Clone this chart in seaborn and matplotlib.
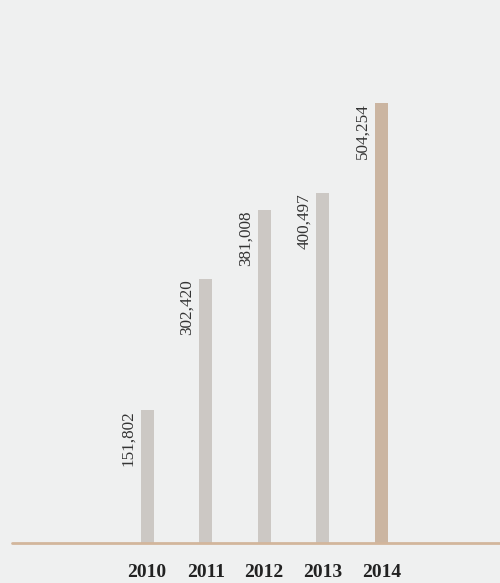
import numpy as np
import pandas as pd
import seaborn as sns
from matplotlib import pyplot as plt

# Data
years = ['2010', '2011', '2012', '2013', '2014']
values = [151802, 302420, 381008, 400497, 504254]
bar_colors = ['#ccc8c4', '#ccc8c4', '#ccc8c4', '#ccc8c4', '#cbb5a1']

df = pd.DataFrame({'year': years, 'value': values})

sns.set_theme(style='white')
plt.rcParams['font.family'] = ['Liberation Serif', 'DejaVu Serif']

bg = '#eff0f0'
fig = plt.figure(figsize=(5.0, 5.83), dpi=100, facecolor=bg)
ax = fig.add_axes([0.024, 40 / 583, 0.976, 543 / 583])
ax.set_facecolor(bg)

sns.barplot(data=df, x='year', y='value', hue='year', palette=bar_colors,
            width=0.22, legend=False, ax=ax, saturation=1, linewidth=0)

ax.set_xlim(-2.31, 6.03)
ax.set_ylim(0, 622000)

# value labels, rotated, to the left of each bar
for i, v in enumerate(values):
    ax.text(i - 0.18, v, f'{v:,}', rotation=90, ha='right', va='top',
            fontsize=12.3, color='#333333')

# baseline
ax.axhline(0, color='#d2b69c', lw=2, clip_on=False)

for s in ax.spines.values():
    s.set_visible(False)
ax.set_yticks([])
ax.set_xlabel('')
ax.set_ylabel('')
ax.tick_params(axis='x', length=0, pad=15)
for lbl in ax.get_xticklabels():
    lbl.set_fontweight('bold')
    lbl.set_fontsize(14)
    lbl.set_color('#222222')

fig.savefig('out.png', dpi=100, facecolor=bg)
